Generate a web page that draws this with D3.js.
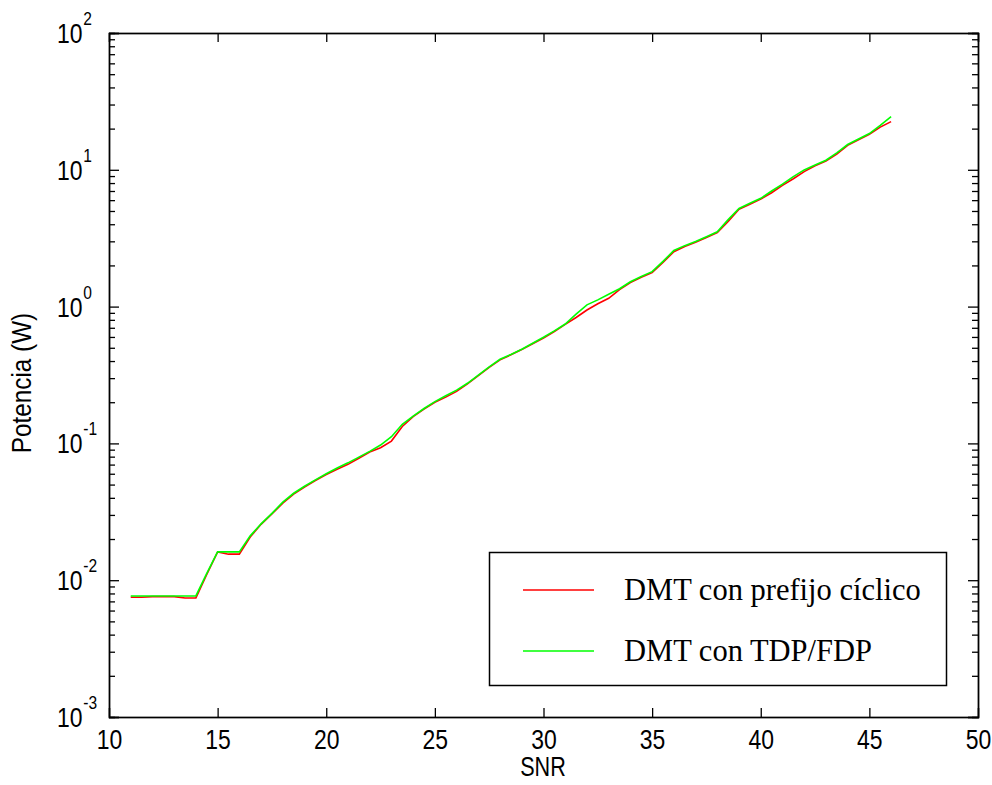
<!DOCTYPE html>
<html>
<head>
<meta charset="utf-8">
<script src="https://cdn.jsdelivr.net/npm/d3@7"></script>
<style>
  body { margin: 0; background: #fff; }
</style>
</head>
<body>
<div class="container"></div>
<script>
// x axis values (SNR) shared by both series
var snr = [11,11.5,12,12.5,13,13.5,14,14.5,15,15.5,16,16.5,17,17.5,18,18.5,19,19.5,20,20.5,
  21,21.5,22,22.5,23,23.5,24,24.5,25,25.5,26,26.5,27,27.5,28,28.5,29,29.5,30,30.5,
  31,31.5,32,32.5,33,33.5,34,34.5,35,35.5,36,36.5,37,37.5,38,38.5,39,39.5,40,40.5,
  41,41.5,42,42.5,43,43.5,44,44.5,45,45.5,46];

// potencia (W)
var potPrefijo = [0.00750,0.00750,0.00758,0.00758,0.00758,0.00742,0.00742,0.0110,0.0161,0.0155,0.0155,0.0207,0.0256,0.0305,0.0366,0.0426,0.0480,0.0535,0.0592,0.0647,
  0.0703,0.0779,0.0866,0.0929,0.1040,0.1330,0.1570,0.1780,0.2000,0.2180,0.2400,0.2720,0.3130,0.3600,0.4080,0.4440,0.4850,0.5350,0.5900,0.6570,
  0.7410,0.8320,0.9440,1.0500,1.1500,1.3300,1.5000,1.6400,1.7700,2.1000,2.5200,2.7500,2.9500,3.2000,3.4800,4.2000,5.1500,5.6000,6.1000,6.8000,
  7.7000,8.6000,9.7000,10.700,11.600,13.000,15.100,16.600,18.200,20.500,22.500];
var potTDP = [0.00767,0.00767,0.00767,0.00767,0.00767,0.00767,0.00767,0.0112,0.0161,0.0161,0.0161,0.0211,0.0258,0.0308,0.0372,0.0432,0.0486,0.0541,0.0600,0.0661,
  0.0721,0.0794,0.0875,0.0973,0.1120,0.1380,0.1585,0.1800,0.2020,0.2230,0.2450,0.2750,0.3160,0.3630,0.4120,0.4470,0.4880,0.5400,0.5970,0.6640,
  0.7460,0.8800,1.0300,1.1200,1.2300,1.3500,1.5200,1.6600,1.8000,2.1400,2.5700,2.7900,2.9900,3.2400,3.5200,4.3200,5.2200,5.6900,6.1900,7.0000,
  7.8500,8.9100,9.9800,10.840,11.750,13.300,15.300,16.800,18.400,21.100,24.500];

var series = [
  {name: "DMT con prefijo cíclico", values: potPrefijo, color: "#ff0000"},
  {name: "DMT con TDP/FDP", values: potTDP, color: "#00ff00"}
];

var xTicks = [10,15,20,25,30,35,40,45,50];
var yExp = [-3,-2,-1,0,1,2];

// build the SVG
var svgwidth = 992, svgheight = 785;
var margin = {top: 33, right: 14, bottom: 68, left: 109};
var mywidth = svgwidth - margin.left - margin.right;
var myheight = svgheight - margin.top - margin.bottom;
var sansFont = "'Liberation Sans', Arial, sans-serif";
var narrow = 0.82; // the original labels use a narrow sans font

var svg = d3.select(".container").append("svg")
    .attr("width", svgwidth)
    .attr("height", svgheight)
    .style("display", "block");
var g = svg.append("g")
    .attr("transform", "translate(" + margin.left + "," + margin.top + ")");

var posX = d3.scaleLinear().domain([10, 50]).range([0, mywidth]);
var posY = d3.scaleLog().domain([1e-3, 1e2]).range([myheight, 0]);

// minor ticks for log axis
var yMinor = [];
yExp.slice(0, -1).forEach(function(e) {
  for (var k = 2; k <= 9; k++) yMinor.push(k * Math.pow(10, e));
});
var yMajor = yExp.map(function(e) { return Math.pow(10, e); });

// axes (ticks point inwards, like matlab)
g.append("g")
    .attr("class", "axis axis--x")
    .attr("transform", "translate(0," + myheight + ")")
    .call(d3.axisBottom(posX).tickValues(xTicks).tickSize(-9).tickPadding(12).tickFormat(d3.format("d")))
    .call(function(s) {
      s.selectAll("text")
        .attr("font-family", sansFont)
        .attr("font-size", 28)
        .attr("fill", "#000")
        .attr("transform", "scale(" + narrow + ",1)");
    });
g.append("g")
    .attr("class", "axis axis--xtop")
    .call(d3.axisTop(posX).tickValues(xTicks).tickSize(-9).tickFormat(""));
g.append("g")
    .attr("class", "axis axis--y")
    .call(d3.axisLeft(posY).tickValues(yMajor).tickSize(-10).tickFormat(""));
g.append("g")
    .attr("class", "axis axis--y")
    .call(d3.axisLeft(posY).tickValues(yMinor).tickSize(-6).tickFormat(""));
g.append("g")
    .attr("class", "axis axis--yr")
    .attr("transform", "translate(" + mywidth + ",0)")
    .call(d3.axisRight(posY).tickValues(yMajor).tickSize(-10).tickFormat(""));
g.append("g")
    .attr("class", "axis axis--yr")
    .attr("transform", "translate(" + mywidth + ",0)")
    .call(d3.axisRight(posY).tickValues(yMinor).tickSize(-6).tickFormat(""));

g.selectAll(".axis path, .axis line").attr("stroke", "#000").attr("stroke-width", 1.3);

// y labels 10^n
var ylab = g.selectAll(".ylab")
    .data(yExp)
    .enter()
    .append("text")
        .attr("class", "ylab")
        .attr("transform", function(d) {
          return "translate(-52," + (posY(Math.pow(10, d)) + 10) + ") scale(" + narrow + ",1)";
        })
        .attr("font-family", sansFont)
        .attr("font-size", 28)
        .attr("fill", "#000");
ylab.append("tspan").text("10");
ylab.append("tspan")
    .attr("font-size", 19)
    .attr("dx", 1)
    .attr("dy", -18)
    .text(function(d) { return d; });

// the two curves
var line = d3.line()
    .x(function(d) { return posX(d[0]); })
    .y(function(d) { return posY(d[1]); });

g.selectAll(".curve")
  .data(series)
  .enter()
    .append("path")
        .attr("class", "curve")
        .attr("fill", "none")
        .attr("stroke", function(d) { return d.color; })
        .attr("stroke-width", 1.6)
        .attr("d", function(d) { return line(snr.map(function(s, i) { return [s, d.values[i]]; })); });

// frame
g.append("rect")
    .attr("x", 0.5).attr("y", 0.5)
    .attr("width", mywidth).attr("height", myheight)
    .attr("fill", "none").attr("stroke", "#000").attr("stroke-width", 1.3);

// legend
var leg = g.append("g").attr("transform", "translate(" + (489 - margin.left) + "," + (552 - margin.top) + ")");
leg.append("rect")
    .attr("x", 0.5).attr("y", 0.5)
    .attr("width", 457).attr("height", 133)
    .attr("fill", "#fff").attr("stroke", "#000").attr("stroke-width", 1.5);
var items = leg.selectAll(".item")
    .data(series)
    .enter()
    .append("g")
        .attr("class", "item")
        .attr("transform", function(d, i) { return "translate(0," + (38 + i * 61) + ")"; });
items.append("line")
    .attr("x1", 34).attr("x2", 105)
    .attr("stroke", function(d) { return d.color; })
    .attr("stroke-width", 1.6);
items.append("text")
    .attr("x", 135)
    .attr("y", 10)
    .attr("font-family", "'Liberation Serif', 'Times New Roman', serif")
    .attr("font-size", 30.5)
    .attr("fill", "#000")
    .text(function(d) { return d.name; });

// axis titles
svg.append("text")
    .attr("transform", "translate(543,776) scale(0.8,1)")
    .attr("text-anchor", "middle")
    .attr("font-family", sansFont)
    .attr("font-size", 27)
    .text("SNR");
svg.append("text")
    .attr("transform", "translate(31,383) rotate(-90) scale(0.9,1)")
    .attr("text-anchor", "middle")
    .attr("font-family", sansFont)
    .attr("font-size", 27)
    .text("Potencia (W)");
</script>
</body>
</html>
